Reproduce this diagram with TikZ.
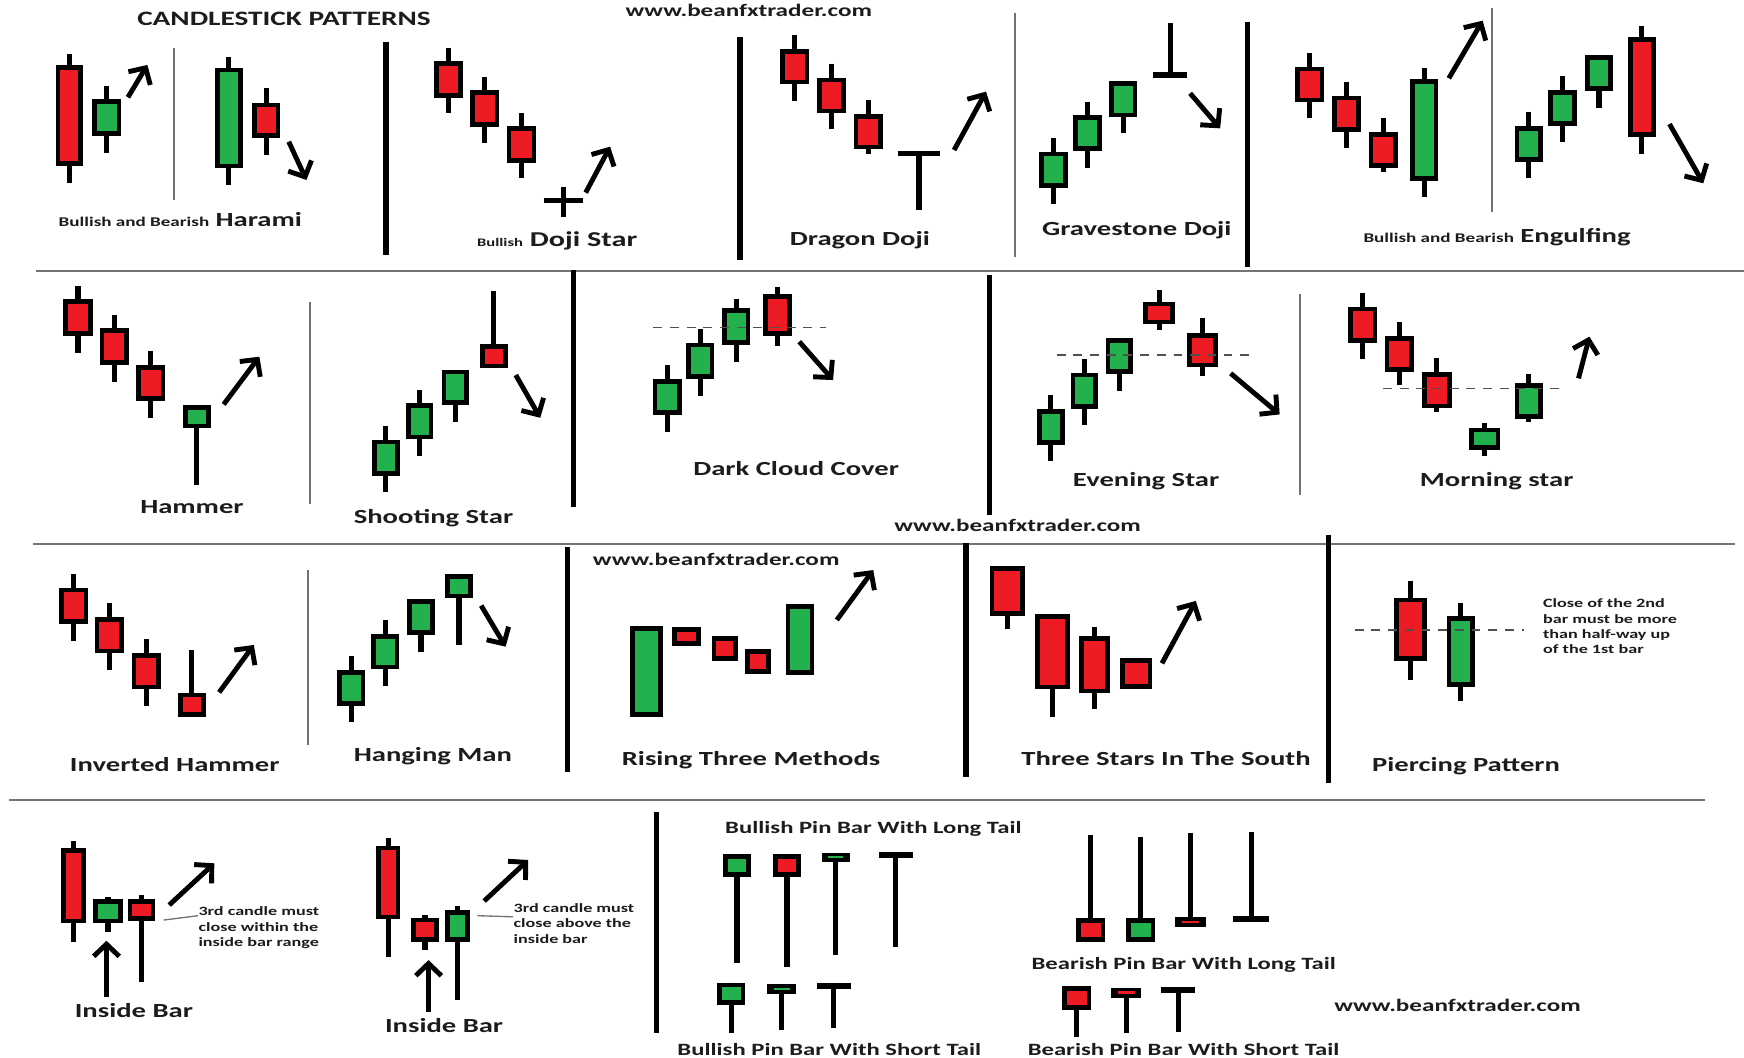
\documentclass[tikz,border=0pt]{standalone}
\usepackage{fontspec}
\setmainfont{Carlito}[FakeStretch=1.43]
\usetikzlibrary{arrows.meta}
\definecolor{cred}{RGB}{237,28,36}
\definecolor{cgreen}{RGB}{34,177,76}
\definecolor{ink}{RGB}{28,28,28}
\definecolor{rulegray}{RGB}{115,115,115}

\tikzset{
  wk/.style={line width=2.3pt, draw=black},
  bd/.style={line width=2.1pt, draw=black},
  trend/.style={line width=2.2pt, -{Straight Barb[length=5.5pt,width=11.5pt]}},
  thicksep/.style={line width=2.4pt, draw=black},
  thinsep/.style={line width=0.8pt, draw=rulegray},
  hsep/.style={line width=1pt, draw=rulegray},
  guide/.style={line width=0.6pt, draw=rulegray!70!black, dash pattern=on 4pt off 3.5pt},
  leader/.style={line width=0.6pt, draw=rulegray},
  lbl/.style={inner sep=0pt, anchor=base west, text=ink, font=\bfseries\fontsize{9}{10}\selectfont},
  notetxt/.style={lbl, font=\bfseries\fontsize{5.7}{6.5}\selectfont},
  pinlbl/.style={lbl, font=\bfseries\fontsize{7.75}{9}\selectfont},
  web/.style={lbl, font=\bfseries\fontsize{7.9}{9}\selectfont},
}

% candle: left, right, body top, body bottom, wick top, wick bottom, fill
\newcommand\cndl[7]{%
  \draw[wk] ({(#1+#2)/2},#5) -- ({(#1+#2)/2},#6);
  \filldraw[bd,fill=#7] ({#1+2.1},{#3+2.1}) rectangle ({#2-2.1},{#4-2.1});
}
% doji body with a thin coloured dash: left, right, top, bottom, wick from, wick to, colour
\newcommand\doji[7]{%
  \draw[wk] ({(#1+#2)/2},#5) -- ({(#1+#2)/2},#6);
  \fill[black] (#1,#3) rectangle (#2,#4);
  \draw[#7, line width=1.1pt] ({#1+6},{(#3+#4)/2}) -- ({#2-6},{(#3+#4)/2});
}
% T shaped doji: bar from x1 to x2 at y, stem to y2
\newcommand\tee[4]{%
  \draw[wk] (#1,#3) -- (#2,#3);
  \draw[wk] ({(#1+#2)/2},#3) -- ({(#1+#2)/2},#4);
}

\begin{document}
\begin{tikzpicture}[x=0.5pt,y=-0.5pt]
\useasboundingbox (0,0) rectangle (1568,951);
\fill[white] (0,0) rectangle (1568,951);

% ---------- frame lines ----------
\draw[hsep] (32,243.5) -- (1568,243.5);
\draw[hsep] (30,489) -- (1560,489);
\draw[hsep] (8.5,719.5) -- (1533,719.5);

\draw[thicksep] (347,37.5) -- (347,229.3);
\draw[thicksep] (665.2,33.6) -- (665.2,233.8);
\draw[thicksep] (1121.8,19.5) -- (1121.8,239.8);
\draw[thinsep] (156.5,43.5) -- (156.5,180);
\draw[thinsep] (912.6,11.4) -- (912.6,230.8);
\draw[thinsep] (1341.5,7.5) -- (1341.5,190.3);

\draw[thicksep] (515.5,243) -- (515.5,456.2);
\draw[thicksep] (889.9,247.3) -- (889.9,463.1);
\draw[thinsep] (278.9,271.9) -- (278.9,453.5);
\draw[thinsep] (1168.7,264.7) -- (1168.7,445.1);

\draw[thicksep] (510.4,491.5) -- (510.4,694.4);
\draw[thicksep] (868.6,488.5) -- (868.6,698.3);
\draw[thicksep] (1194.4,481) -- (1194.4,704.3);
\draw[thinsep] (277.2,512.5) -- (277.2,669.8);

\draw[thicksep] (590.1,729.8) -- (590.1,929.1);

% ---------- titles ----------
\node[lbl, font=\bfseries\fontsize{9.2}{11}\selectfont] (title) at (123,22.5) {CANDLESTICK PATTERNS};
\node[web] (webtop) at (562,15) {www.beanfxtrader.com};
\node[web] (webmid) at (803.7,478.1) {www.beanfxtrader.com};
\node[web] (webrise) at (532.7,508.6) {www.beanfxtrader.com};
\node[web] (webbot) at (1199.2,909.6) {www.beanfxtrader.com};

% ---------- Harami ----------
\cndl{50}{74.4}{58.4}{149.3}{48.5}{164.2}{cred}
\cndl{83}{109}{89.3}{122.3}{77.3}{137.3}{cgreen}
\draw[trend] (115,87.5) -- (132.5,58.4);
\cndl{193.3}{218.3}{60.8}{151.3}{51}{166.3}{cgreen}
\cndl{226.5}{252.1}{92.3}{123.8}{79.4}{139.4}{cred}
\draw[trend] (259.6,127.4) -- (275.5,161.8);
\node[lbl] (harami) at (52.4,203.8) {{\fontsize{6}{7}\selectfont Bullish and Bearish} Harami};

% ---------- Doji Star ----------
\cndl{390.4}{416.4}{54.8}{87.8}{42.9}{101.9}{cred}
\cndl{422.5}{448.9}{80.9}{113.9}{68.9}{128.3}{cred}
\cndl{455.6}{482.3}{113.3}{146.3}{101.3}{160.3}{cred}
\draw[wk] (489,180) -- (524,180);
\draw[wk] (506.5,167.8) -- (506.5,194.8);
\draw[trend] (526.6,173.2) -- (548.5,131.9);
\node[lbl, font=\bfseries\fontsize{9.5}{11}\selectfont] (dojistar) at (428.6,221.8) {{\fontsize{5.2}{6}\selectfont Bullish} Doji Star};

% ---------- Dragon Doji ----------
\cndl{701.7}{727.7}{44.4}{75.8}{31.5}{90.5}{cred}
\cndl{734.4}{760.5}{69.8}{101.9}{57.5}{116.3}{cred}
\cndl{767.6}{793.6}{102.5}{134.3}{89.9}{138.5}{cred}
\tee{807.1}{845.3}{137.9}{188.8}
\draw[trend] (857.8,134.9) -- (886.5,82.4);
\node[lbl] (dragon) at (709.8,220.3) {Dragon Doji};

% ---------- Gravestone Doji ----------
\cndl{934.5}{960.2}{136.4}{168.7}{124.4}{183.4}{cgreen}
\cndl{965}{990.7}{103.4}{135.8}{91.4}{151.3}{cgreen}
\cndl{997.4}{1022.4}{72.8}{105.5}{72.8}{119.9}{cgreen}
\tee{1037}{1067}{67.4}{21}
\draw[trend] (1070,83.9) -- (1097,115.4);
\node[lbl] (grave) at (936.6,211.3) {Gravestone Doji};

% ---------- Engulfing ----------
\cndl{1164.7}{1190.7}{59.9}{92}{47.4}{106.4}{cred}
\cndl{1197.5}{1223.2}{86}{118.4}{73.4}{132.8}{cred}
\cndl{1230.6}{1256.6}{118.7}{150.7}{106.4}{154.3}{cred}
\cndl{1267.8}{1293.1}{71}{162.7}{61.4}{176.8}{cgreen}
\draw[trend] (1302.6,70.4) -- (1333,18.6);
\cndl{1361.7}{1387.1}{113.3}{145.4}{100.4}{160.3}{cgreen}
\cndl{1392.2}{1417.5}{80.9}{113}{68.3}{128}{cgreen}
\cndl{1425}{1450.3}{49.5}{81.8}{49.5}{96.8}{cgreen}
\cndl{1463.8}{1488.5}{33.6}{122.9}{23.4}{138.5}{cred}
\draw[trend] (1501,111.5) -- (1531.4,164.8);
\node[lbl] (engulf) at (1225.5,217.9) {{\fontsize{6}{7}\selectfont Bullish and Bearish} Engulfing};

% ---------- Hammer ----------
\cndl{56.8}{83.5}{269.2}{302.1}{257.2}{317.1}{cred}
\cndl{89.6}{115.9}{295.2}{328.2}{283.3}{343.2}{cred}
\cndl{122.4}{148.7}{328.2}{360.6}{315.6}{376.2}{cred}
\cndl{164.6}{189.3}{364.2}{385.2}{364.2}{436.1}{cgreen}
\draw[trend] (201.1,363.6) -- (233.2,320.7);
\node[lbl] (hammer) at (125.7,461.6) {Hammer};

% ---------- Shooting Star ----------
\cndl{334.6}{359.3}{395.3}{427.7}{383}{442.7}{cgreen}
\cndl{365}{389.7}{362.7}{395}{350.7}{410}{cgreen}
\cndl{397.2}{421.8}{332.4}{364.2}{332.4}{379.2}{cgreen}
\cndl{431.6}{456.3}{309.6}{331.2}{261.7}{331.2}{cred}
\draw[trend] (463.7,337.2) -- (485.7,375.6);
\node[lbl] (shooting) at (317.7,470.6) {Shooting Star};

% ---------- Dark Cloud Cover ----------
\cndl{586.7}{612.8}{341.1}{373.2}{328.2}{388.2}{cgreen}
\cndl{617.2}{642.2}{308.1}{340.8}{296.1}{355.8}{cgreen}
\cndl{649.3}{674.6}{277.3}{310.2}{269.2}{325.2}{cgreen}
\cndl{686.1}{711.8}{264.4}{302.1}{258.4}{311.1}{cred}
\draw[guide] (587.4,294.3) -- (742.9,294.3);
\draw[trend] (718.6,307.2) -- (749,341.7);
\node[lbl] (darkcloud) at (622.9,427.1) {Dark Cloud Cover};

% ---------- Evening Star ----------
\cndl{932.2}{957.5}{368.1}{400.1}{355.2}{414.5}{cgreen}
\cndl{962.6}{987.3}{335.1}{367.8}{323.1}{382.2}{cgreen}
\cndl{994}{1018.4}{304.2}{336.3}{304.2}{351.6}{cgreen}
\cndl{1027.8}{1056.5}{271.3}{291.6}{260.8}{296.7}{cred}
\cndl{1067.3}{1094.7}{299.7}{330.3}{286.3}{338.1}{cred}
\draw[guide] (950.1,319.2) -- (1129.2,319.2);
\draw[trend] (1106.5,335.7) -- (1150.5,372.6);
\node[lbl] (evening) at (964.3,437.6) {Evening Star};

% ---------- Morning star ----------
\cndl{1212}{1238.4}{275.8}{308.1}{263.8}{322.8}{cred}
\cndl{1244.8}{1271.2}{302.1}{334.2}{289.9}{346.2}{cred}
\cndl{1278.6}{1305}{334.8}{367.2}{322.2}{370.2}{cred}
\cndl{1320.8}{1348.9}{384.6}{404.6}{380.7}{410}{cgreen}
\cndl{1361.7}{1387.1}{344.7}{376.8}{336.6}{379.2}{cgreen}
\draw[guide] (1243.4,349.2) -- (1404,349.2);
\draw[trend] (1419.2,340.2) -- (1429,302.7);
\node[lbl] (morning) at (1276.2,437.6) {Morning star};

% ---------- Inverted Hammer ----------
\cndl{53.1}{79.4}{528.4}{561}{516.4}{576.3}{cred}
\cndl{85.2}{111.5}{555}{587.4}{542.4}{602.4}{cred}
\cndl{118.3}{144.7}{587.4}{619.8}{574.8}{634.7}{cred}
\cndl{159.9}{185.2}{622.8}{644.3}{584.4}{644.3}{cred}
\draw[trend] (197,622.5) -- (228.2,579.9);
\node[lbl] (invhammer) at (62.5,693.2) {Inverted Hammer};

% ---------- Hanging Man ----------
\cndl{303.2}{328.5}{602.4}{634.4}{589.8}{648.8}{cgreen}
\cndl{334}{359}{570}{601.8}{557.4}{616.5}{cgreen}
\cndl{366}{391}{538.8}{570.9}{538.8}{585.9}{cgreen}
\cndl{400.5}{424.9}{516.4}{538}{516.4}{579.9}{cgreen}
\draw[trend] (432.6,544.5) -- (454.6,581.4);
\node[lbl] (hanging) at (317.7,684.8) {Hanging Man};

% ---------- Rising Three Methods ----------
\cndl{566.5}{595.9}{562.8}{644.3}{562.8}{644.3}{cgreen}
\cndl{604.3}{630.3}{564}{580.8}{564}{580.8}{cred}
\cndl{639.8}{663.5}{571.8}{594.3}{571.8}{594.3}{cred}
\cndl{670.2}{692.9}{583.8}{606}{583.8}{606}{cred}
\cndl{706.4}{732.1}{543}{606.9}{543}{606.9}{cgreen}
\draw[trend] (752.4,557.4) -- (785.1,512.5);
\node[lbl] (rising) at (558.7,687.8) {Rising Three Methods};

% ---------- Three Stars In The South ----------
\cndl{889.9}{921.4}{508.9}{553.8}{508.9}{565.8}{cred}
\cndl{930.5}{961.9}{552}{619.8}{552}{644.3}{cred}
\cndl{970}{998}{571.8}{623.4}{563.4}{637.7}{cred}
\cndl{1007.2}{1035.9}{591.9}{619.5}{591.9}{619.5}{cred}
\draw[trend] (1044.7,596.4) -- (1075.1,540.3);
\node[lbl] (threestars) at (918,687.8) {Three Stars In The South};

% ---------- Piercing Pattern ----------
\cndl{1253.6}{1283}{537.3}{594.3}{522.1}{611.4}{cred}
\cndl{1300.6}{1326.2}{553.8}{617.4}{542.4}{630.3}{cgreen}
\draw[guide] (1218,566.4) -- (1370.2,566.4);
\node[notetxt] (pnote1) at (1387,546.3) {Close of the 2nd};
\node[notetxt] (pnote2) at (1387,560.4) {bar must be more};
\node[notetxt] (pnote3) at (1387,574.5) {than half-way up};
\node[notetxt] (pnote4) at (1387,587.4) {of the 1st bar};
\node[lbl] (piercing) at (1233.3,693.2) {Piercing Pattern};

% ---------- Inside Bar (within range) ----------
\cndl{54.8}{77.1}{762.8}{830.2}{756.2}{846.7}{cred}
\cndl{83.8}{110.5}{808.6}{830.2}{806.8}{838.3}{cgreen}
\cndl{114.9}{139.6}{808.6}{828.1}{804.7}{883.2}{cred}
\draw[trend] (95.7,896.1) -- (95.7,845.8);
\draw[trend] (152.1,813.7) -- (192.7,776.2);
\node[notetxt] (ia1) at (178.1,823.3) {3rd candle must};
\node[notetxt] (ia2) at (178.1,837.1) {close within the};
\node[notetxt] (ia3) at (178.1,851.2) {inside bar range};
\coordinate (ia0) at (147,827.2);
\draw[leader] (ia0) -- (ia1.base west);
\node[lbl] (insidea) at (66.9,915) {Inside Bar};

% ---------- Inside Bar (close above) ----------
\cndl{338}{360}{760.4}{826.6}{753.8}{860.2}{cred}
\cndl{369.4}{394.8}{825.1}{846.7}{822.7}{854.2}{cred}
\cndl{400.5}{422.5}{818.2}{846.7}{814.3}{899.1}{cgreen}
\draw[trend] (385.3,909.6) -- (385.3,863.2);
\draw[trend] (435.3,810.1) -- (474.9,773.2);
\node[notetxt] (ib1) at (461.4,820.3) {3rd candle must};
\node[notetxt] (ib2) at (461.4,834.1) {close above the};
\node[notetxt] (ib3) at (461.4,848.2) {inside bar};
\coordinate (ib0) at (429.3,823.3);
\draw[leader] (ib0) -- ([yshift=-2pt]ib1.base west);
\node[lbl] (insideb) at (345.8,928.2) {Inside Bar};

% ---------- Pin bars ----------
\node[pinlbl] (bulllong) at (651.6,749.3) {Bullish Pin Bar With Long Tail};
\cndl{650}{675.3}{767.8}{788.2}{767.8}{866.1}{cgreen}
\cndl{694.9}{720.2}{767.8}{788.2}{767.8}{869.1}{cred}
\doji{738.8}{764.2}{766.7}{774.7}{770}{858.7}{cgreen}
\tee{790.2}{820.6}{768.7}{851.2}

\cndl{644.9}{670.2}{883.5}{903.6}{883.5}{929.1}{cgreen}
\doji{689.8}{715.9}{885}{893.7}{889}{926.1}{cgreen}
\tee{734.4}{764.9}{886.5}{924.6}
\node[pinlbl] (bullshort) at (608.7,948.6) {Bullish Pin Bar With Short Tail};

\cndl{967.7}{993.7}{825.7}{846.7}{750.8}{846.7}{cred}
\cndl{1012.3}{1038.6}{825.7}{846.7}{752.3}{846.7}{cgreen}
\doji{1056.5}{1084.2}{824.2}{833.8}{748.7}{829}{cred}
\tee{1108.9}{1141.3}{826.3}{747.8}
\node[pinlbl] (bearlong) at (927.1,872.1) {Bearish Pin Bar With Long Tail};

\cndl{954.8}{981.2}{886.5}{908.1}{886.5}{932.1}{cred}
\doji{999.1}{1026.1}{888}{897}{892}{929.1}{cred}
\tee{1044}{1074.4}{890.1}{927.6}
\node[pinlbl] (bearshort) at (923.7,948.6) {Bearish Pin Bar With Short Tail};

\end{tikzpicture}
\end{document}
